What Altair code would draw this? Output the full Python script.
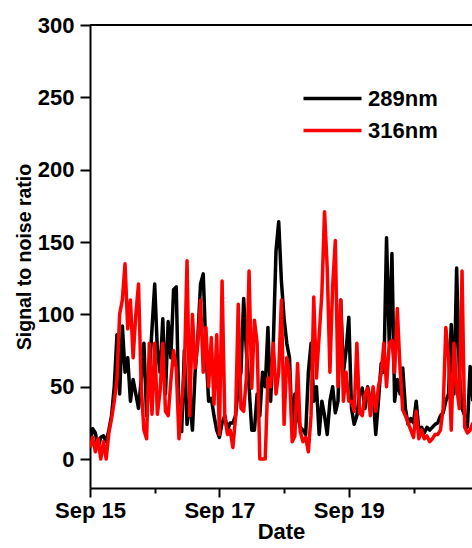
import altair as alt
import pandas as pd

# hours since Sep 15 00:00
hours = list(range(0, 143))

snr_289 = [
    10, 21, 18, 8, 15, 16, 12, 20, 30, 50, 86, 45, 92, 60, 70, 40, 55, 45, 35, 55, 80, 30, 60, 90, 121,
    75, 60, 97, 45, 95, 70, 117, 119, 30, 19, 75, 24, 42, 20, 60, 84, 121, 128, 75, 40, 42, 30, 20, 15,
    25, 30, 20, 25, 25, 30, 50, 60, 111, 75, 50, 20, 20, 45, 30, 60, 50, 91, 40, 80, 144, 164, 123, 97,
    80, 70, 20, 45, 30, 22, 20, 17, 60, 80, 40, 50, 17, 40, 30, 17, 40, 50, 32, 40, 110, 60, 75, 98,
    35, 24, 30, 45, 49, 35, 50, 40, 45, 17, 40, 66, 60, 153, 80, 142, 40, 55, 45, 63, 35, 24, 28, 25,
    40, 20, 22, 18, 22, 20, 22, 24, 25, 30, 32, 40, 45, 93, 45, 132, 60, 35, 30, 22, 64, 40,
]

snr_316 = [
    8, 15, 5, 14, 0, 12, 0, 18, 28, 40, 55, 100, 110, 135, 90, 110, 70, 100, 121, 50, 20, 14, 80, 31, 80,
    31, 47, 80, 33, 30, 54, 75, 63, 14, 40, 60, 137, 30, 100, 63, 80, 110, 60, 91, 50, 84, 38, 86, 17,
    123, 29, 17, 20, 8, 29, 107, 35, 33, 56, 130, 49, 96, 80, 0, 0, 0, 56, 50, 80, 45, 60, 110, 24,
    70, 60, 12, 16, 66, 19, 12, 15, 5, 30, 112, 56, 85, 114, 171, 132, 60, 119, 151, 50, 110, 40, 60, 40,
    40, 33, 80, 32, 30, 45, 49, 30, 50, 33, 50, 59, 80, 50, 80, 82, 60, 104, 63, 34, 30, 25, 20, 15,
    33, 14, 20, 14, 16, 12, 14, 17, 17, 20, 35, 91, 70, 20, 80, 50, 35, 130, 22, 18, 20, 25,
]

series_names = ["289nm", "316nm"]
series_colors = ["#000000", "#ff0000"]

x_tick_hours = [0, 24, 48, 72, 96, 120]
x_label_hours = [0, 48, 96]
x_labels = ["Sep 15", "Sep 17", "Sep 19"]
y_ticks = [0, 25, 50, 75, 100, 125, 150, 175, 200, 225, 250, 275, 300]

x_max = 141.7
y_min, y_max = -20, 300

df = pd.DataFrame({
    "hour": hours * 2,
    "snr": snr_289 + snr_316,
    "series": [series_names[0]] * len(hours) + [series_names[1]] * len(hours),
})
df["order"] = df["series"].map({series_names[0]: 0, series_names[1]: 1})

FONT = "Liberation Sans"

label_expr = " : ".join(
    f"datum.value == {h} ? '{l}'" for h, l in zip(x_label_hours, x_labels)
) + " : ''"

x_axis = alt.Axis(
    values=x_tick_hours,
    labelExpr=label_expr,
    title="Date",
    grid=False,
    domainColor="black",
    domainWidth=2,
    tickColor="black",
    tickWidth=2,
    tickSize={"condition": {"test": "datum.value % 48 === 0", "value": 9}, "value": 5},
    labelFont=FONT,
    labelFontWeight="bold",
    labelFontSize=22,
    labelColor="black",
    labelPadding=3,
    labelFlush=False,
    titleFont=FONT,
    titleFontWeight="bold",
    titleFontSize=22,
    titleColor="black",
    titlePadding=0,
)

y_axis = alt.Axis(
    values=y_ticks,
    labelExpr="datum.value % 50 === 0 ? datum.value : ''",
    title="Signal to noise ratio",
    grid=False,
    domainColor="black",
    domainWidth=2,
    tickColor="black",
    tickWidth=2,
    tickSize={"condition": {"test": "datum.value % 50 === 0", "value": 10}, "value": 5},
    labelFont=FONT,
    labelFontWeight="bold",
    labelFontSize=22,
    labelColor="black",
    labelPadding=6,
    titleFont=FONT,
    titleFontWeight="bold",
    titleFontSize=19.5,
    titleColor="black",
    titlePadding=3,
)

x_scale = alt.Scale(domain=[0, x_max], nice=False, zero=False)
y_scale = alt.Scale(domain=[y_min, y_max], nice=False, zero=False)

lines = alt.Chart(df).mark_line(strokeWidth=3.5, clip=True, strokeJoin="round").encode(
    x=alt.X("hour:Q", scale=x_scale, axis=x_axis),
    y=alt.Y("snr:Q", scale=y_scale, axis=y_axis),
    color=alt.Color(
        "series:N",
        scale=alt.Scale(domain=series_names, range=series_colors),
        legend=alt.Legend(
            title=None,
            orient="none",
            legendX=231,
            legendY=62,
            symbolType="M-3,0H3",
            symbolSize=374,
            symbolStrokeWidth=3.5,
            symbolFillColor="transparent",
            labelFont=FONT,
            labelFontWeight="bold",
            labelFontSize=22,
            labelColor="black",
            labelOffset=24,
            rowPadding=9,
            padding=0,
        ),
    ),
    order=alt.Order("order:Q"),
)

top_frame = alt.Chart(pd.DataFrame({"y": [y_max]})).mark_rule(
    color="black", strokeWidth=2
).encode(
    y=alt.Y("y:Q", scale=y_scale),
    x=alt.datum(0, scale=x_scale),
    x2=alt.datum(x_max),
)

chart = alt.layer(lines, top_frame).properties(
    width=382,
    height=463,
    padding={"left": 90, "top": 25, "right": 0, "bottom": 60},
    autosize=alt.AutoSizeParams(type="none"),
    background="white",
).configure_view(stroke=None)

chart.save("out.html", embed_options={"renderer": "svg", "actions": False})
